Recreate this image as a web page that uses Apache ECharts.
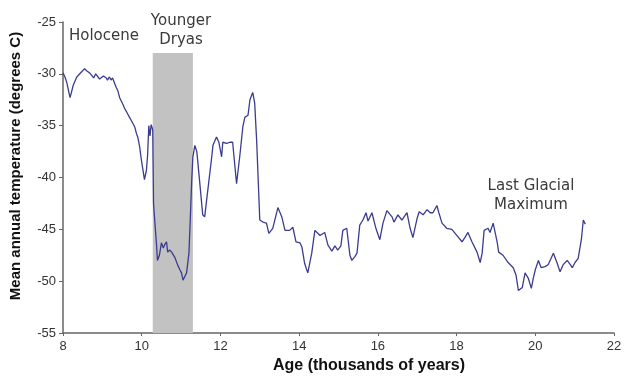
<!DOCTYPE html>
<html>
<head>
<meta charset="utf-8">
<script src="https://cdn.jsdelivr.net/npm/echarts@6/dist/echarts.min.js"></script>
<style>
html,body{margin:0;padding:0;background:#fff;}
#chart{width:626px;height:378px;}
</style>
</head>
<body>
<div id="chart"></div>
<script>
const ages = [8.00,8.05,8.10,8.15,8.18,8.22,8.26,8.35,8.45,8.55,8.60,8.67,8.72,8.78,8.83,8.88,8.93,8.98,9.03,9.06,9.10,9.13,9.18,9.22,9.26,9.31,9.35,9.39,9.44,9.49,9.53,9.56,9.62,9.69,9.75,9.82,9.87,9.90,9.95,9.98,10.02,10.07,10.12,10.15,10.18,10.21,10.24,10.28,10.30,10.33,10.38,10.40,10.45,10.50,10.55,10.58,10.63,10.66,10.71,10.76,10.84,10.92,10.97,11.01,11.05,11.10,11.14,11.20,11.24,11.27,11.30,11.35,11.40,11.47,11.55,11.60,11.68,11.78,11.81,11.90,11.96,12.03,12.06,12.16,12.24,12.31,12.36,12.41,12.49,12.57,12.62,12.70,12.75,12.82,12.87,12.92,12.97,13.00,13.08,13.17,13.23,13.33,13.46,13.56,13.64,13.76,13.84,13.92,14.02,14.07,14.14,14.22,14.32,14.40,14.48,14.53,14.65,14.73,14.83,14.91,14.98,15.06,15.11,15.21,15.29,15.34,15.42,15.47,15.54,15.62,15.70,15.75,15.85,15.95,16.05,16.13,16.23,16.36,16.41,16.51,16.61,16.74,16.82,16.89,17.00,17.05,17.15,17.25,17.33,17.40,17.50,17.55,17.63,17.75,17.88,18.01,18.14,18.21,18.29,18.39,18.52,18.60,18.65,18.70,18.80,18.85,18.93,19.03,19.07,19.18,19.31,19.44,19.51,19.57,19.67,19.74,19.82,19.90,19.95,20.00,20.08,20.15,20.25,20.33,20.46,20.55,20.63,20.71,20.81,20.89,20.94,21.01,21.09,21.17,21.22,21.27];
const temps = [-29.9,-30.3,-30.9,-31.8,-32.3,-32.2,-31.1,-30.3,-29.9,-29.5,-29.7,-29.9,-30.1,-30.4,-30.0,-30.1,-30.5,-30.6,-30.2,-30.1,-30.4,-30.6,-30.3,-30.6,-30.4,-30.9,-31.3,-31.6,-32.3,-32.7,-33.0,-33.3,-33.7,-34.2,-34.6,-35.1,-35.8,-36.1,-37.1,-38.0,-39.0,-40.2,-39.3,-37.8,-35.0,-36.0,-34.9,-35.4,-42.5,-44.1,-46.7,-48.0,-47.5,-46.3,-46.8,-46.5,-46.2,-47.2,-47.0,-47.2,-47.7,-48.5,-48.9,-49.2,-49.9,-49.5,-49.2,-47.3,-43.4,-40.3,-38.0,-36.9,-37.5,-40.3,-43.6,-43.8,-41.2,-38.0,-36.9,-36.1,-36.6,-38.0,-36.6,-36.7,-36.6,-36.6,-38.6,-40.6,-38.0,-35.1,-34.2,-34.0,-32.5,-31.8,-32.8,-36.4,-41.2,-44.1,-44.3,-44.4,-45.4,-44.9,-42.9,-43.8,-45.1,-45.1,-44.8,-46.2,-46.3,-46.7,-48.3,-49.2,-47.3,-45.1,-45.4,-45.6,-45.3,-46.5,-47.1,-46.6,-47.0,-46.6,-45.1,-44.9,-47.5,-48.0,-47.6,-47.3,-44.6,-44.1,-43.4,-44.2,-43.4,-44.9,-46.0,-44.4,-43.2,-43.8,-44.3,-43.6,-44.1,-43.4,-44.9,-45.8,-43.9,-43.3,-43.6,-43.1,-43.4,-43.4,-42.7,-43.4,-44.4,-44.9,-45.0,-45.6,-46.2,-45.8,-45.3,-46.2,-47.2,-48.2,-47.3,-45.1,-44.9,-45.3,-44.4,-46.2,-47.2,-47.5,-48.2,-48.7,-49.4,-50.9,-50.6,-49.2,-49.7,-50.7,-49.7,-48.9,-48.0,-48.7,-48.6,-48.4,-47.3,-48.2,-49.1,-48.4,-48.0,-48.4,-48.7,-48.2,-47.8,-46.0,-44.1,-44.5];
const youngerDryas = [10.28, 11.30];
const shadeTop = -28;
const xTicks = [8, 10, 12, 14, 16, 18, 20, 22];
const yTicks = [-55, -50, -45, -40, -35, -30, -25];

const chart = echarts.init(document.getElementById('chart'), null, {renderer: 'canvas'});
const pts = ages.map((a, i) => [a, temps[i]]);
chart.setOption({
  animation: false,
  backgroundColor: '#fff',
  grid: {left: 63, right: 12, top: 22, bottom: 45, containLabel: false},
  xAxis: {
    type: 'value', min: xTicks[0], max: xTicks[xTicks.length - 1], interval: 2,
    axisLine: {show: true, lineStyle: {color: '#666', width: 1.5}},
    axisTick: {show: true, length: 3, inside: false, lineStyle: {color: '#666'}},
    axisLabel: {color: '#333', fontFamily: 'Liberation Sans', fontSize: 13, margin: 7},
    splitLine: {show: false}
  },
  yAxis: {
    type: 'value', min: yTicks[0], max: yTicks[yTicks.length - 1], interval: 5,
    axisLine: {show: true, lineStyle: {color: '#666', width: 1.5}},
    axisTick: {show: true, length: 4, lineStyle: {color: '#666'}},
    axisLabel: {color: '#333', fontFamily: 'Liberation Sans', fontSize: 13, margin: 7},
    splitLine: {show: false}
  },
  series: [{
    type: 'line',
    data: pts,
    showSymbol: false,
    smooth: false,
    lineStyle: {color: '#3b3b8f', width: 1.3},
    z: 3,
    markArea: {
      silent: true,
      itemStyle: {color: '#c2c2c2'},
      data: [[{xAxis: youngerDryas[0], yAxis: shadeTop}, {xAxis: youngerDryas[1], yAxis: yTicks[0]}]]
    }
  }],
  graphic: [
    {type: 'text', x: 69, y: 36, style: {text: 'Holocene', font: '15px "DejaVu Sans"', fill: '#3a3a3a', verticalAlign: 'middle'}},
    {type: 'text', x: 181, y: 12, style: {text: 'Younger\nDryas', font: '15px "DejaVu Sans"', fill: '#3a3a3a', align: 'center', lineHeight: 19}},
    {type: 'text', x: 531, y: 177, style: {text: 'Last Glacial\nMaximum', font: '15px "DejaVu Sans"', fill: '#3a3a3a', align: 'center', lineHeight: 19}},
    {type: 'text', x: 369, y: 366, style: {text: 'Age (thousands of years)', font: 'bold 16px "Liberation Sans"', fill: '#111', align: 'center', verticalAlign: 'middle'}},
    {type: 'text', x: 16, y: 166, rotation: Math.PI / 2, style: {text: 'Mean annual temperature (degrees C)', font: 'bold 15px "Liberation Sans"', fill: '#111', align: 'center', verticalAlign: 'middle'}}
  ]
});
</script>
</body>
</html>
